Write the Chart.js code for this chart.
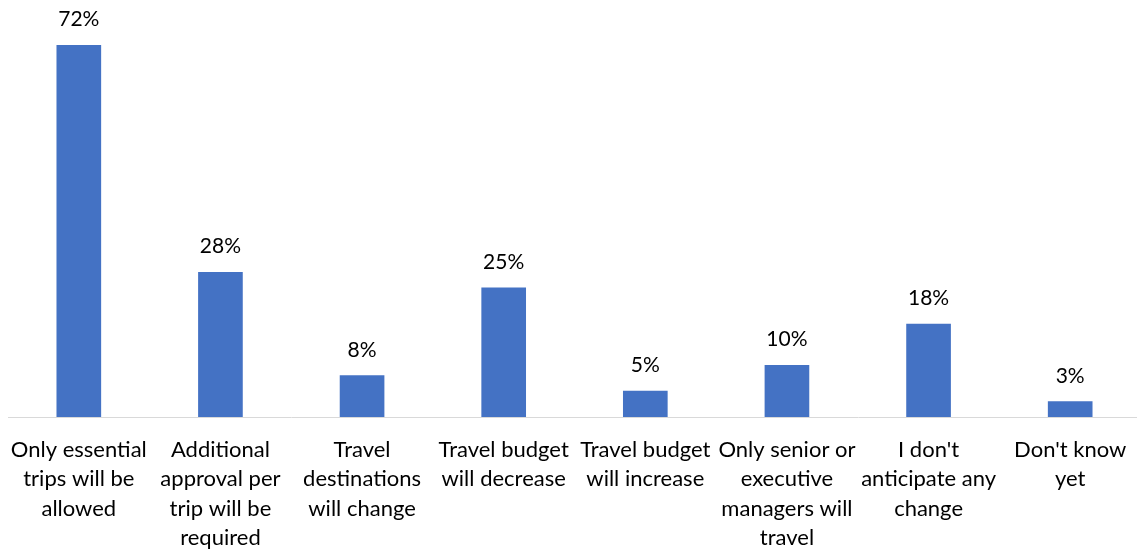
<!DOCTYPE html>
<html>
<head>
<meta charset="utf-8">
<script src="https://cdn.jsdelivr.net/npm/chart.js@4/dist/chart.umd.min.js"></script>
<style>
  html, body { margin: 0; padding: 0; background: #fff; overflow: hidden; }
  #wrap { width: 1141px; height: 552px; }
</style>
</head>
<body>
<div id="wrap"><canvas id="chart" width="1141" height="552"></canvas></div>
<script>
// Kategorien (mehrzeilig wie im Original)
const categories = [
  ['Only essential', 'trips will be', 'allowed'],
  ['Additional', 'approval per', 'trip will be', 'required'],
  ['Travel', 'destinations', 'will change'],
  ['Travel budget', 'will decrease'],
  ['Travel budget', 'will increase'],
  ['Only senior or', 'executive', 'managers will', 'travel'],
  ["I don't", 'anticipate any', 'change'],
  ["Don't know", 'yet'],
];
const values = [72, 28, 8, 25, 5, 10, 18, 3];

const FONT = 'Lato, "Open Sans", sans-serif';

// Prozentwerte über den Balken
const valueLabels = {
  id: 'valueLabels',
  afterDatasetsDraw(chart) {
    const { ctx } = chart;
    const meta = chart.getDatasetMeta(0);
    ctx.save();
    ctx.font = '21px ' + FONT;
    ctx.fillStyle = '#000';
    ctx.textAlign = 'center';
    ctx.textBaseline = 'alphabetic';
    meta.data.forEach((bar, i) => {
      ctx.fillText(values[i] + '%', bar.x, bar.y - 19);
    });
    ctx.restore();
  }
};

new Chart(document.getElementById('chart'), {
  type: 'bar',
  data: {
    labels: categories,
    datasets: [{
      data: values,
      backgroundColor: '#4472C4',
      borderWidth: 0,
      barThickness: 44,
    }],
  },
  options: {
    responsive: false,
    animation: false,
    layout: { padding: { top: 4, left: 8, right: 0, bottom: 0 } },
    scales: {
      x: {
        grid: { display: false, drawTicks: false },
        border: { display: true, color: '#d9d9d9', width: 1 },
        ticks: {
          color: '#000',
          font: { family: FONT, size: 22, lineHeight: 1.34 },
          padding: 18,
          maxRotation: 0,
          autoSkip: false,
        },
        afterFit(scale) {
          scale.height = 135;
          // Beschriftungen dürfen über den Rand ragen, Plotbreite bleibt fix
          scale.paddingLeft = 0;
          scale.paddingRight = 0;
        },
      },
      y: {
        display: false,
        min: 0,
        max: 80,
      },
    },
    plugins: { legend: { display: false }, tooltip: { enabled: false } },
  },
  plugins: [valueLabels],
});
</script>
</body>
</html>
